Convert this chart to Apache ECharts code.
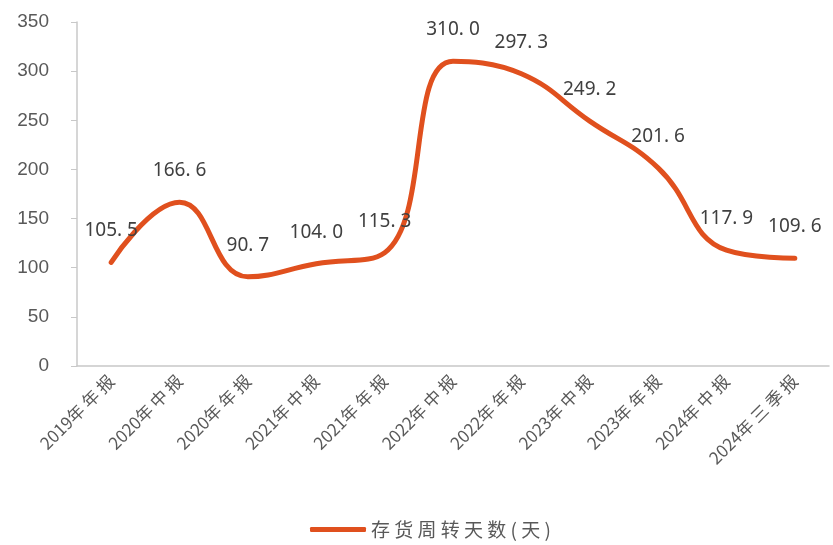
<!DOCTYPE html>
<html><head><meta charset="utf-8">
<script src="https://cdn.jsdelivr.net/npm/echarts@6/dist/echarts.min.js"></script>
<style>html,body{margin:0;padding:0;background:#fff}#c{width:833px;height:545px}</style>
</head><body><div id="c"></div>
<script>
const categories = ['2019年年报','2020年中报','2020年年报','2021年中报','2021年年报','2022年中报','2022年年报','2023年中报','2023年年报','2024年中报','2024年三季报'];
const values = [105.5,166.6,90.7,104.0,115.3,310.0,297.3,249.2,201.6,117.9,109.6];
const seriesName = '存货周转天数(天)';
const yTicks = [0,50,100,150,200,250,300,350];

const chart = echarts.init(document.getElementById('c'));
chart.setOption({
  animation:false,
  grid:{left:77,right:4,top:22,bottom:179},
  legend:{bottom:1,left:305,itemWidth:56,itemHeight:5,icon:'roundRect',itemGap:10,
    textStyle:{color:'#595959',fontSize:19,fontFamily:'Noto Sans CJK SC'},
    formatter:n=>n.split('').join(' '),
    data:[seriesName]},
  xAxis:{type:'category',data:categories,boundaryGap:true,
    axisLine:{lineStyle:{color:'#c8c8c8',width:1.5}},
    axisTick:{show:false},
    axisLabel:{rotate:45,interval:0,color:'#595959',fontSize:17,fontFamily:'Noto Sans CJK SC',margin:12,
      formatter:v=>v.slice(0,4)+v.slice(4).split('').join(' ')}},
  yAxis:{type:'value',min:yTicks[0],max:yTicks[yTicks.length-1],interval:50,
    splitLine:{show:false},
    axisLine:{show:true,lineStyle:{color:'#c8c8c8',width:1.5}},
    axisTick:{show:true,length:6,lineStyle:{color:'#c8c8c8'}},
    axisLabel:{color:'#595959',fontSize:19,fontFamily:'Liberation Sans',margin:28}},
  series:[{name:seriesName,type:'line',data:values,smooth:0.45,symbol:'circle',symbolSize:0.1,showSymbol:true,
    lineStyle:{color:'#E0501E',width:5,cap:'round'},itemStyle:{color:'#E0501E'},
    label:{show:true,position:'top',distance:22,color:'#404040',fontSize:19,fontFamily:'Noto Sans',
      formatter:p=>p.value.toFixed(1).replace('.','. ')}}]
});
</script></body></html>
